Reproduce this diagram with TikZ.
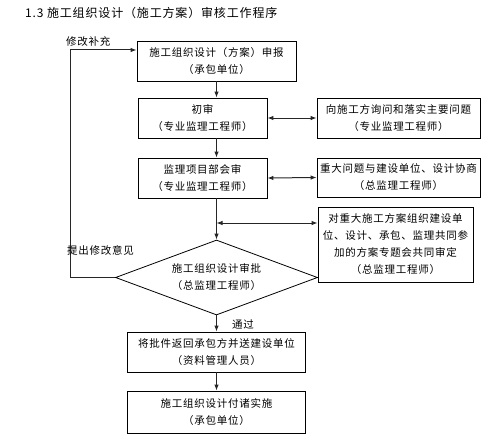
\documentclass[tikz,border=0pt]{standalone}
\usepackage{fontspec}
\setmainfont{Noto Sans CJK SC}[LetterSpace=7]
\usetikzlibrary{arrows.meta,shapes.geometric}

\begin{document}
\begin{tikzpicture}[x=1pt, y=-1pt,
    box/.style={draw, line width=0.8pt, align=center, inner sep=0pt,
                font=\fontsize{10.5}{17}\selectfont},
    arr/.style={draw=black!85, line width=1pt, -{Latex[length=6pt,width=4.5pt]}},
    darr/.style={draw=black!85, line width=1pt, {Latex[length=6pt,width=4.5pt]}-{Latex[length=6pt,width=4.5pt]}},
    lbl/.style={font=\fontsize{10.5}{12}\selectfont, inner sep=0pt}]

    \useasboundingbox (0,0) rectangle (489,444);

    \node[anchor=west, inner sep=0pt, font=\fontsize{12}{14}\selectfont] (title) at (25,13)
        {1.3 施工组织设计（施工方案）审核工作程序};

    % main column
    \node[box, minimum width=159pt, minimum height=40pt] (report) at (216.5,61)
        {施工组织设计（方案）申报\\（承包单位）};
    \node[box, minimum width=129pt, minimum height=40pt] (first) at (202.5,118)
        {初审\\（专业监理工程师）};
    \node[box, minimum width=129pt, minimum height=40pt] (joint) at (202.5,178)
        {监理项目部会审\\（专业监理工程师）};
    \node[box, diamond, aspect=2.7, minimum width=202pt, minimum height=75pt] (approve) at (216.5,277.5)
        {施工组织设计审批\\（总监理工程师）};
    \node[box, minimum width=178pt, minimum height=40pt] (back) at (216.5,352)
        {将批件返回承包方并送建设单位\\（资料管理人员）};
    \node[box, minimum width=178pt, minimum height=42pt] (carry) at (216.5,412)
        {施工组织设计付诸实施\\（承包单位）};

    % side boxes
    \node[box, minimum width=163pt, minimum height=40pt] (ask) at (398.5,118)
        {向施工方询问和落实主要问题\\（专业监理工程师）};
    \node[box, minimum width=163pt, minimum height=39pt] (consult) at (398.5,177.5)
        {重大问题与建设单位、设计协商\\（总监理工程师）};
    \node[box, minimum width=155pt, minimum height=75pt] (meeting) at (395.5,244.5)
        {对重大施工方案组织建设单\\位、设计、承包、监理共同参\\加的方案专题会共同审定\\（总监理工程师）};

    \coordinate (junc) at (216.5,223);

    % connectors
    \draw[arr] (report.south) -- (report.south |- first.north);
    \draw[arr] (report.south |- first.south) -- (report.south |- joint.north);
    \draw[arr] (report.south |- joint.south) -- (approve.north);
    \draw[darr] (junc) -- (junc -| meeting.west);
    \draw[darr] (first.east) -- (ask.west);
    \draw[darr] (joint.east) -- (consult.west);
    \draw[arr] (approve.south) -- (back.north);
    \draw[arr] (back.south) -- (carry.north);
    \draw[arr] (approve.west) -- ++(-45,0) |- ([yshift=11pt]report.west);

    % labels
    \node[lbl, anchor=south west] (redo) at (66,47) {修改补充};
    \node[lbl, anchor=west] (remark) at (67,250) {提出修改意见};
    \node[lbl] (pass) at (243,324) {通过};
\end{tikzpicture}
\end{document}
